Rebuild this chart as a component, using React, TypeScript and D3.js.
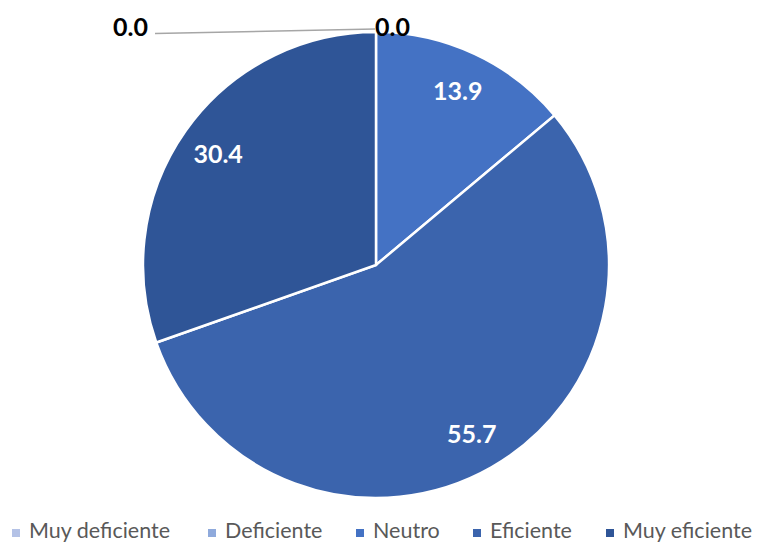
import React from "react";
import * as d3 from "d3";

const categories = ["Muy deficiente", "Deficiente", "Neutro", "Eficiente", "Muy eficiente"];
const values = [0.0, 0.0, 13.9, 55.7, 30.4];
const colors = ["#B4C2E6", "#8FAADC", "#4472C4", "#3B64AD", "#2F5597"];

export default function App() {
  const W = 759, H = 544;
  const cx = 376, cy = 265, r = 233;
  const pie = d3.pie<number>().sort(null).value((d) => d)(values);
  const arc = d3.arc<d3.PieArcDatum<number>>().innerRadius(0).outerRadius(r);
  const labelArc = d3.arc<d3.PieArcDatum<number>>().innerRadius(r * 0.83).outerRadius(r * 0.83);
  const font = "Lato, 'Open Sans', sans-serif";

  const legendTextX = [29, 225, 373, 490, 623];

  return (
    <svg width={W} height={H} style={{ position: "absolute", left: 0, top: 0 }}>
      <rect width={W} height={H} fill="#fff" />
      <g transform={`translate(${cx},${cy})`}>
        {pie.map((p, i) =>
          p.value > 0 ? (
            <path key={i} d={arc(p) || ""} fill={colors[i]} stroke="#fff" strokeWidth={2.5} />
          ) : null
        )}
        {pie.map((p, i) => {
          if (p.value <= 0) return null;
          const [x, y] = labelArc.centroid(p);
          return (
            <text key={i} x={x} y={y} textAnchor="middle" dominantBaseline="central"
              fill="#fff" fontWeight="bold" fontSize={25} fontFamily={font}>
              {p.value.toFixed(1)}
            </text>
          );
        })}
        {/* zero-value labels */}
        <line x1={-221} y1={-231.5} x2={-1} y2={-236} stroke="#A6A6A6" strokeWidth={1.5} />
        <text x={-228} y={-239} textAnchor="end" dominantBaseline="central"
          fill="#000" fontWeight="bold" fontSize={25} fontFamily={font}>
          {values[0].toFixed(1)}
        </text>
        <text x={-1} y={-239} textAnchor="start" dominantBaseline="central"
          fill="#000" fontWeight="bold" fontSize={25} fontFamily={font}>
          {values[1].toFixed(1)}
        </text>
      </g>
      <g>
        {categories.map((c, i) => (
          <g key={c}>
            <rect x={legendTextX[i] - 17} y={529} width={8} height={8} fill={colors[i]} />
            <text x={legendTextX[i]} y={538} fill="#595959" fontSize={21.5} fontFamily={font}>
              {c}
            </text>
          </g>
        ))}
      </g>
    </svg>
  );
}
